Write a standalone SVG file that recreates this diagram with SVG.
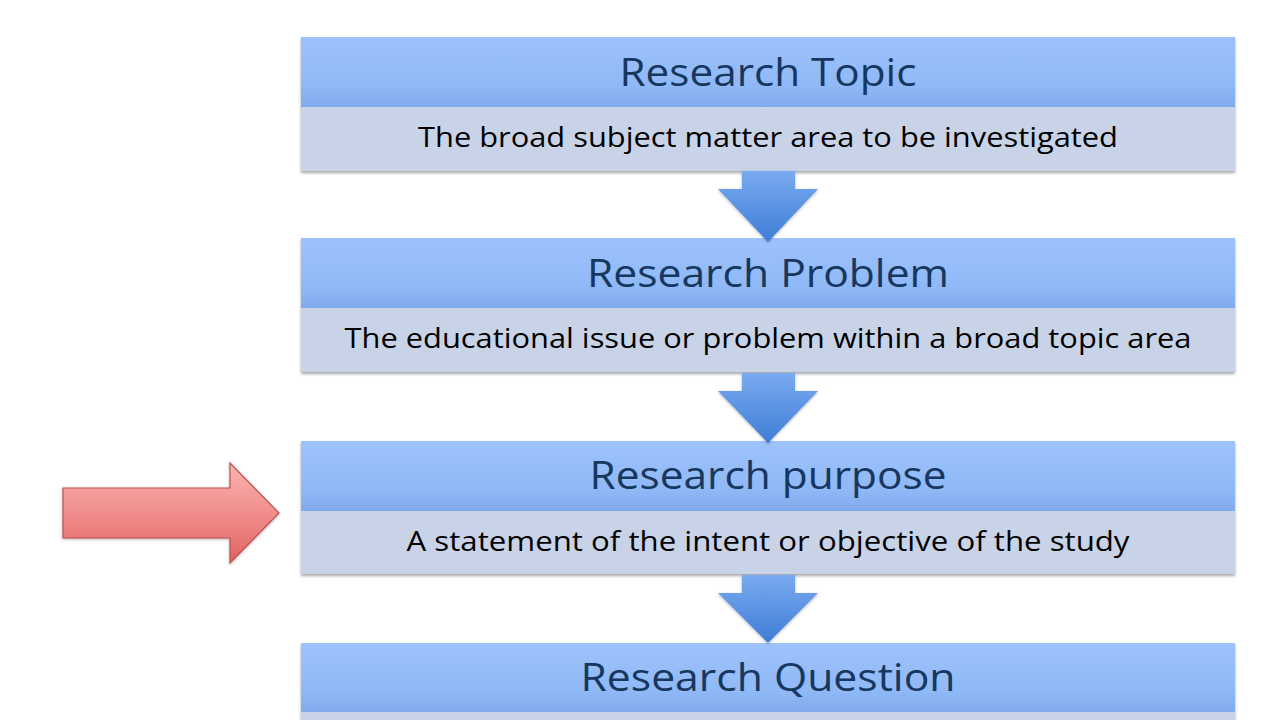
<svg xmlns="http://www.w3.org/2000/svg" width="1280" height="720" viewBox="0 0 1280 720">
  <defs>
    <linearGradient id="hdr" x1="0" y1="0" x2="0" y2="1">
      <stop offset="0" stop-color="#9dc3fc"/>
      <stop offset="0.7" stop-color="#8fb8f6"/>
      <stop offset="1" stop-color="#80aaee"/>
    </linearGradient>
    <linearGradient id="dn" x1="0" y1="0" x2="0" y2="1">
      <stop offset="0" stop-color="#7aaaf0"/>
      <stop offset="1" stop-color="#3e7dd6"/>
    </linearGradient>
    <linearGradient id="red" x1="0" y1="0" x2="0" y2="1">
      <stop offset="0" stop-color="#f8b4b2"/>
      <stop offset="0.5" stop-color="#f08e8c"/>
      <stop offset="1" stop-color="#e06260"/>
    </linearGradient>
    <filter id="sh" x="-5%" y="-20%" width="110%" height="140%">
      <feDropShadow dx="0" dy="2" stdDeviation="1.5" flood-color="#000" flood-opacity="0.35"/>
    </filter>
    <filter id="ash" x="-20%" y="-20%" width="140%" height="140%">
      <feDropShadow dx="0" dy="1" stdDeviation="1.5" flood-color="#000" flood-opacity="0.3"/>
    </filter>
  </defs>
  <style>
    .hdr { fill: url(#hdr); }
    .body { fill: #c9d3e8; }
    .ht { font-family: "Open Sans", "Liberation Sans", sans-serif; font-size: 39px; fill: #17375e; text-anchor: middle; }
    .bt { font-family: "Open Sans", "Liberation Sans", sans-serif; font-size: 27px; fill: #000; text-anchor: middle; }
    .dn { fill: url(#dn); filter: url(#ash); }
  </style>
  <rect width="1280" height="720" fill="#ffffff"/>

  <g id="topic">
    <g filter="url(#sh)">
      <rect class="hdr" x="301" y="37" width="934" height="70"/>
      <rect class="body" x="301" y="107" width="934" height="64"/>
    </g>
    <text class="ht" x="768" y="86" textLength="297" lengthAdjust="spacingAndGlyphs">Research Topic</text>
    <text class="bt" x="768" y="147" textLength="700" lengthAdjust="spacingAndGlyphs">The broad subject matter area to be investigated</text>
  </g>

  <g id="problem">
    <g filter="url(#sh)">
      <rect class="hdr" x="301" y="238" width="934" height="70"/>
      <rect class="body" x="301" y="308" width="934" height="64"/>
    </g>
    <text class="ht" x="768" y="287" textLength="362" lengthAdjust="spacingAndGlyphs">Research Problem</text>
    <text class="bt" x="768" y="348" textLength="847" lengthAdjust="spacingAndGlyphs">The educational issue or problem within a broad topic area</text>
  </g>

  <g id="purpose">
    <g filter="url(#sh)">
      <rect class="hdr" x="301" y="441" width="934" height="70"/>
      <rect class="body" x="301" y="511" width="934" height="63"/>
    </g>
    <text class="ht" x="768" y="489" textLength="357" lengthAdjust="spacingAndGlyphs">Research purpose</text>
    <text class="bt" x="768" y="551" textLength="723" lengthAdjust="spacingAndGlyphs">A statement of the intent or objective of the study</text>
  </g>

  <g id="question">
    <g filter="url(#sh)">
      <rect class="hdr" x="301" y="643" width="934" height="69"/>
      <rect class="body" x="301" y="712" width="934" height="20"/>
    </g>
    <text class="ht" x="768" y="691" textLength="375" lengthAdjust="spacingAndGlyphs">Research Question</text>
  </g>

  <g id="connectors">
    <path class="dn" d="M742,171 H795 V189 H818 L768,242 L718,189 H742 Z"/>
    <path class="dn" d="M742,373 H795 V391 H818 L768,443 L718,391 H742 Z"/>
    <path class="dn" d="M742,575 H795 V593 H818 L768,643 L718,593 H742 Z"/>
  </g>

  <g id="pointer">
    <path d="M63,488 H230 V463 L279,513 L230,563 V538 H63 Z" fill="url(#red)" stroke="#c0504d" stroke-width="1.2" filter="url(#ash)"/>
  </g>
</svg>
